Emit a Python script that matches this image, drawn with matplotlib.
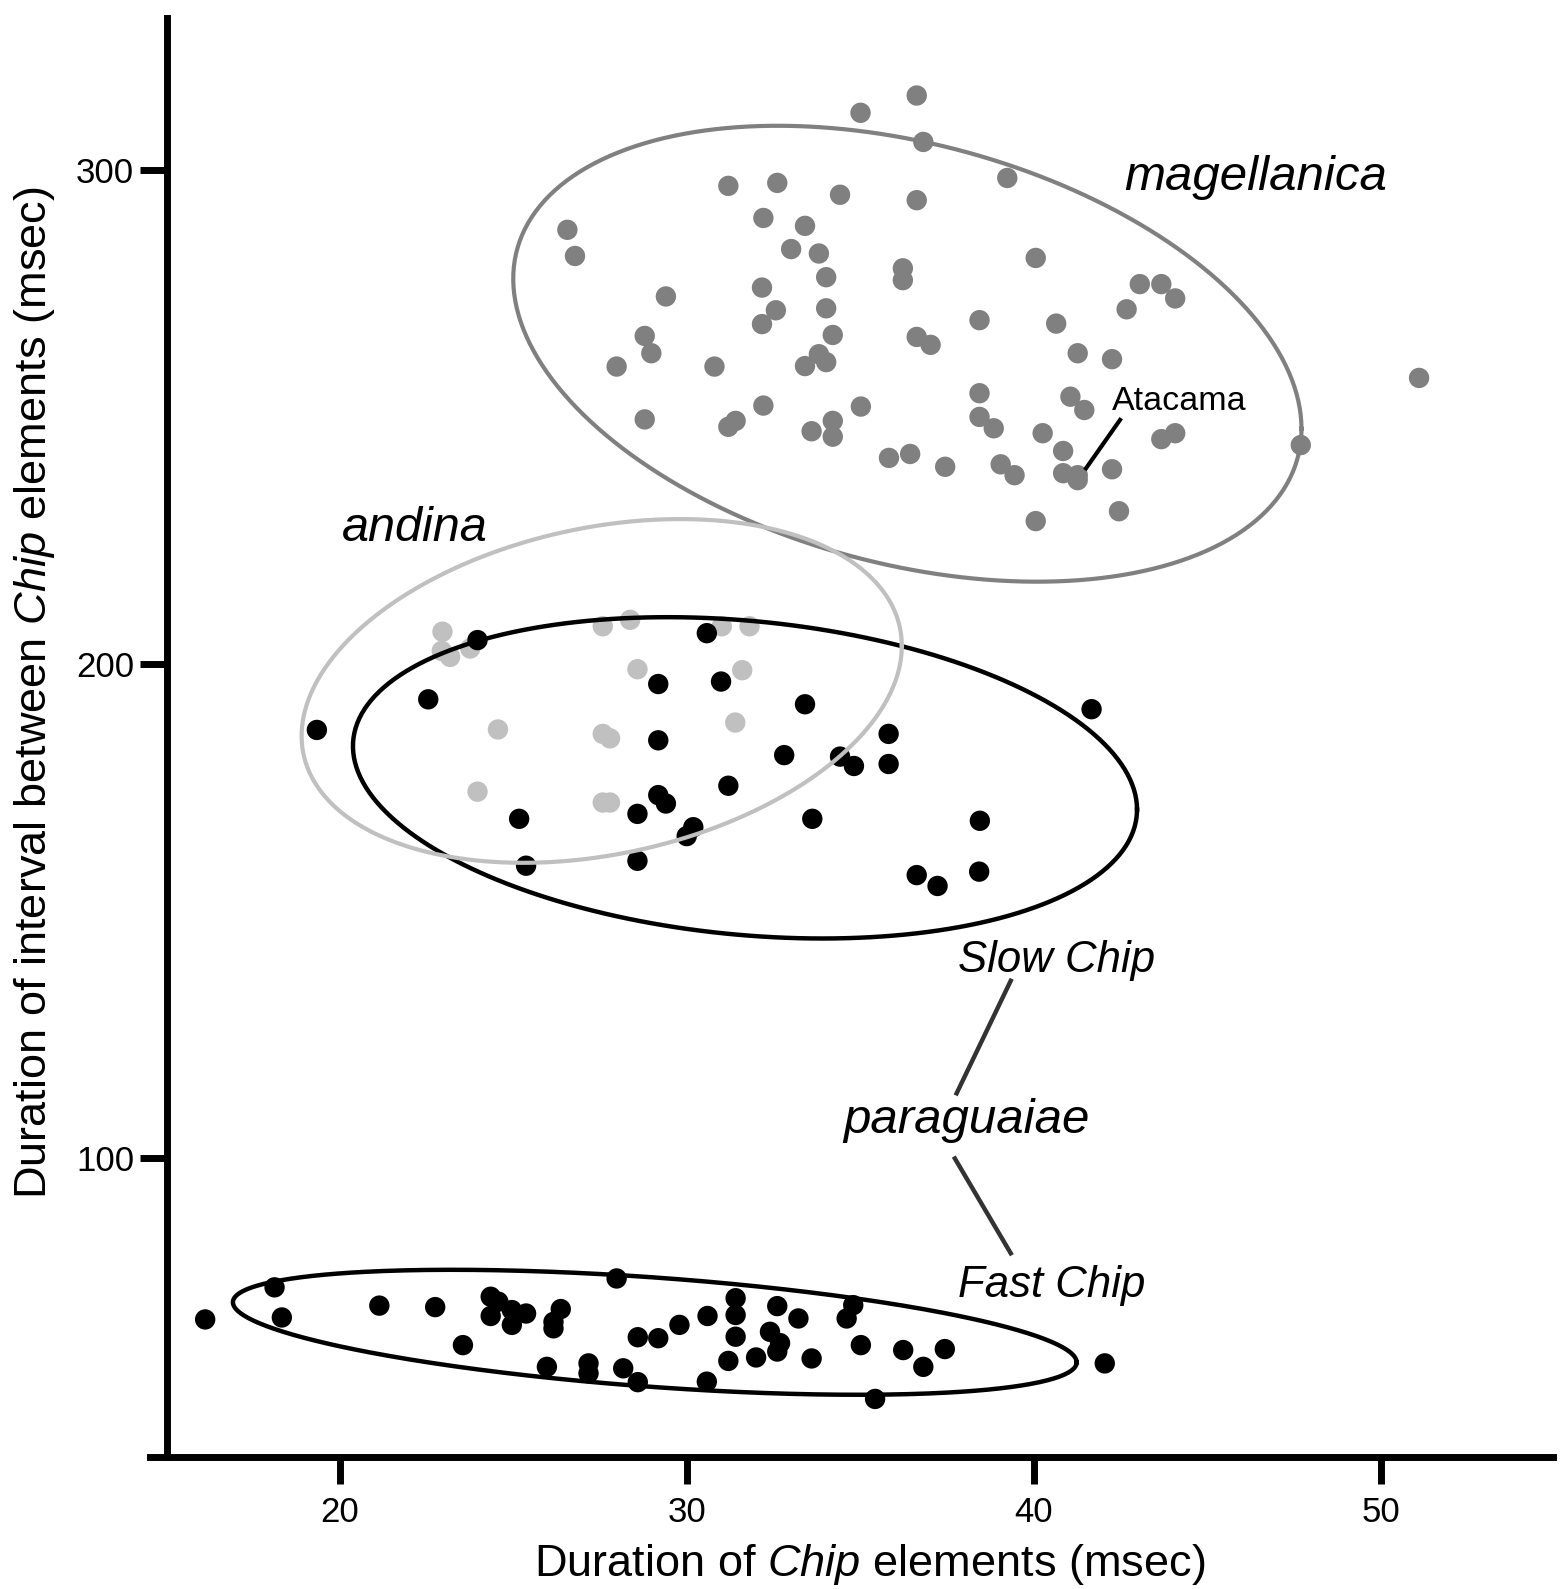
import numpy as np
import matplotlib
matplotlib.use("Agg")
import matplotlib.pyplot as plt

plt.rcParams['font.family'] = ['Liberation Sans', 'DejaVu Sans']
plt.rcParams['mathtext.fontset'] = 'custom'
plt.rcParams['mathtext.rm'] = 'Liberation Sans'
plt.rcParams['mathtext.it'] = 'Liberation Sans:italic'

# magellanica (grey)
mag_x = [35.0, 36.62, 36.81, 31.19, 32.60, 34.41, 36.62, 26.55, 26.77, 32.20, 33.40, 33.0, 33.80, 34.01,
         36.22, 36.22, 29.39, 32.16, 32.56, 34.01, 32.16, 28.78, 28.97, 34.20, 36.62, 37.02, 27.97, 30.79,
         33.40, 33.80, 34.01, 28.78, 32.20, 35.01, 31.19, 31.40, 33.59, 34.20, 34.20, 35.82, 36.43, 39.23,
         40.05, 43.05, 43.67, 44.07, 42.67, 38.43, 40.64, 41.26, 42.25, 38.43, 41.05, 41.45, 38.43, 38.84,
         40.25, 43.67, 44.07, 47.69, 37.44, 39.04, 39.44, 40.84, 40.84, 41.26, 41.26, 42.25, 42.45, 40.05,
         51.10]
mag_y = [311.6, 315.1, 305.7, 296.8, 297.4, 295.0, 293.9, 287.9, 282.6, 290.3, 288.7, 284.0, 283.1, 278.3,
         280.1, 277.7, 274.4, 276.2, 271.6, 272.0, 268.8, 266.4, 262.9, 266.6, 266.2, 264.6, 260.2, 260.2,
         260.3, 262.7, 261.1, 249.5, 252.3, 252.1, 248.0, 249.2, 247.1, 249.2, 246.0, 241.7, 242.5, 298.4,
         282.2, 276.9, 276.9, 274.0, 271.8, 269.6, 268.9, 262.9, 261.7, 254.8, 254.1, 251.4, 250.0, 247.7,
         246.7, 245.5, 246.7, 244.3, 239.9, 240.4, 238.2, 243.1, 238.6, 238.2, 237.2, 239.4, 230.9, 228.9,
         257.9]

# andina (light grey)
and_x = [22.95, 22.93, 23.17, 23.75, 27.57, 28.36, 31.0, 31.80, 28.57, 31.59, 24.55, 27.57, 27.78, 31.39,
         23.96, 27.57, 27.78]
and_y = [206.5, 202.6, 201.4, 203.1, 207.6, 208.9, 207.6, 207.6, 198.9, 198.7, 186.7, 185.8, 184.9, 188.1,
         174.1, 171.9, 171.9]

# paraguaiae, Slow Chip
slow_x = [23.96, 22.54, 19.33, 30.57, 29.17, 30.98, 29.17, 32.80, 31.19, 29.17, 29.39, 28.57, 25.16, 30.18,
          29.99, 25.36, 28.57, 33.40, 35.81, 35.81, 34.41, 34.81, 33.61, 38.44, 41.66, 36.62, 37.22, 38.42]
slow_y = [204.8, 192.8, 186.6, 206.2, 195.9, 196.4, 184.5, 181.5, 175.3, 173.4, 171.7, 169.6, 168.6, 166.9,
          165.1, 159.1, 160.1, 191.8, 185.8, 179.7, 181.2, 179.3, 168.6, 168.2, 190.8, 157.2, 155.0, 157.9]

# paraguaiae, Fast Chip
fast_x = [16.11, 18.11, 18.32, 21.13, 22.74, 23.54, 24.34, 24.56, 24.34, 24.95, 24.95, 25.36, 26.36, 26.15,
          26.15, 27.97, 25.96, 27.16, 27.16, 28.16, 28.58, 28.58, 29.17, 29.78, 30.59, 31.40, 31.40, 31.40,
          31.19, 31.99, 32.60, 33.21, 32.39, 32.68, 32.60, 33.59, 34.79, 34.60, 35.01, 35.42, 36.23, 36.81,
          37.43, 30.57, 42.04]
fast_y = [67.2, 73.7, 67.6, 70.0, 69.7, 62.0, 71.8, 70.8, 67.9, 69.1, 66.1, 68.4, 69.3, 66.7,
          65.4, 75.5, 57.6, 58.3, 56.3, 57.3, 54.5, 63.6, 63.4, 66.1, 67.9, 71.5, 68.1, 63.7,
          58.8, 59.5, 69.9, 67.4, 64.7, 62.4, 60.7, 59.3, 70.1, 67.4, 62.0, 51.1, 61.0, 57.6,
          61.2, 54.6, 58.3]

# ellipses: centre x, centre y, x half-width, y shift at x extreme, y semi-axis
ell_mag = [36.35, 262.8, 11.36, -15.19, 43.6]
ell_and = [27.54, 194.5, 8.65, 9.1, 33.6]
ell_slow = [31.67, 176.9, 11.30, -6.42, 31.9]
ell_fast = [29.07, 64.6, 12.16, -6.08, 11.1]

x_ticks = [20, 30, 40, 50]
y_ticks = [100, 200, 300]


def ellipse_xy(e):
    t = np.linspace(0, 2 * np.pi, 400)
    cx, cy, a, p, q = e
    return cx + a * np.cos(t), cy + p * np.cos(t) + q * np.sin(t)


W, H = 1561, 1589
fig = plt.figure(figsize=(W / 100, H / 100), dpi=100)
ax = fig.add_axes([150 / W, 1 - 1456.7 / H, (1553 - 150) / W, (1456.7 - 18) / H])
ax.set_xlim(14.52, 54.96)
ax.set_ylim(39.4, 330.8)

s = 215
ax.scatter(and_x, and_y, s=s, color='#c0c0c0', edgecolors='none', zorder=2)
ax.scatter(slow_x, slow_y, s=s, color='black', edgecolors='none', zorder=3)
ax.scatter(fast_x, fast_y, s=s, color='black', edgecolors='none', zorder=3)
ax.scatter(mag_x, mag_y, s=s, color='#808080', edgecolors='none', zorder=3)

ex, ey = ellipse_xy(ell_slow)
ax.plot(ex, ey, color='black', lw=3.2, zorder=4)
ex, ey = ellipse_xy(ell_fast)
ax.plot(ex, ey, color='black', lw=3.2, zorder=4)
ex, ey = ellipse_xy(ell_and)
ax.plot(ex, ey, color='#c0c0c0', lw=3.0, zorder=5)
ex, ey = ellipse_xy(ell_mag)
ax.plot(ex, ey, color='#808080', lw=3.0, zorder=4)

# labels
ax.text(42.59, 295.95, 'magellanica', style='italic', fontsize=35.5, ha='left', va='baseline')
ax.text(20.05, 224.9, 'andina', style='italic', fontsize=35, ha='left', va='baseline')
ax.text(42.24, 251.4, 'Atacama', fontsize=24.5, ha='left', va='baseline')
ax.plot([42.48, 41.50], [249.4, 239.6], color='black', lw=3, zorder=6)
ax.text(37.82, 137.6, 'Slow Chip', style='italic', fontsize=31.5, ha='left', va='baseline')
ax.text(34.50, 104.9, 'paraguaiae', style='italic', fontsize=35.5, ha='left', va='baseline')
ax.text(37.82, 71.7, 'Fast Chip', style='italic', fontsize=31.5, ha='left', va='baseline')
ax.plot([39.33, 37.77], [135.8, 113.0], color='#333333', lw=3.2)
ax.plot([37.72, 39.33], [99.8, 80.6], color='#333333', lw=3.2)

# axes styling
for side in ['top', 'right']:
    ax.spines[side].set_visible(False)
ax.spines['left'].set_position(('data', 15))
ax.spines['left'].set_linewidth(5)
ax.spines['bottom'].set_linewidth(5)
ax.set_xticks(x_ticks)
ax.set_yticks(y_ticks)
ax.tick_params(axis='both', direction='out', length=19.5, width=5, labelsize=25)
ax.tick_params(axis='x', pad=9)
ax.tick_params(axis='y', pad=4)

fig.text(869.5 / W, 1 - 1576 / H, r'Duration of $\mathit{Chip}$ elements (msec)',
         fontsize=32.5, ha='center', va='baseline')
fig.text(35 / W, 1 - 693 / H, r'Duration of interval between $\mathit{Chip}$ elements (msec)',
         fontsize=32.5, ha='center', va='center', rotation=90)

fig.savefig('out.png', dpi=100)
